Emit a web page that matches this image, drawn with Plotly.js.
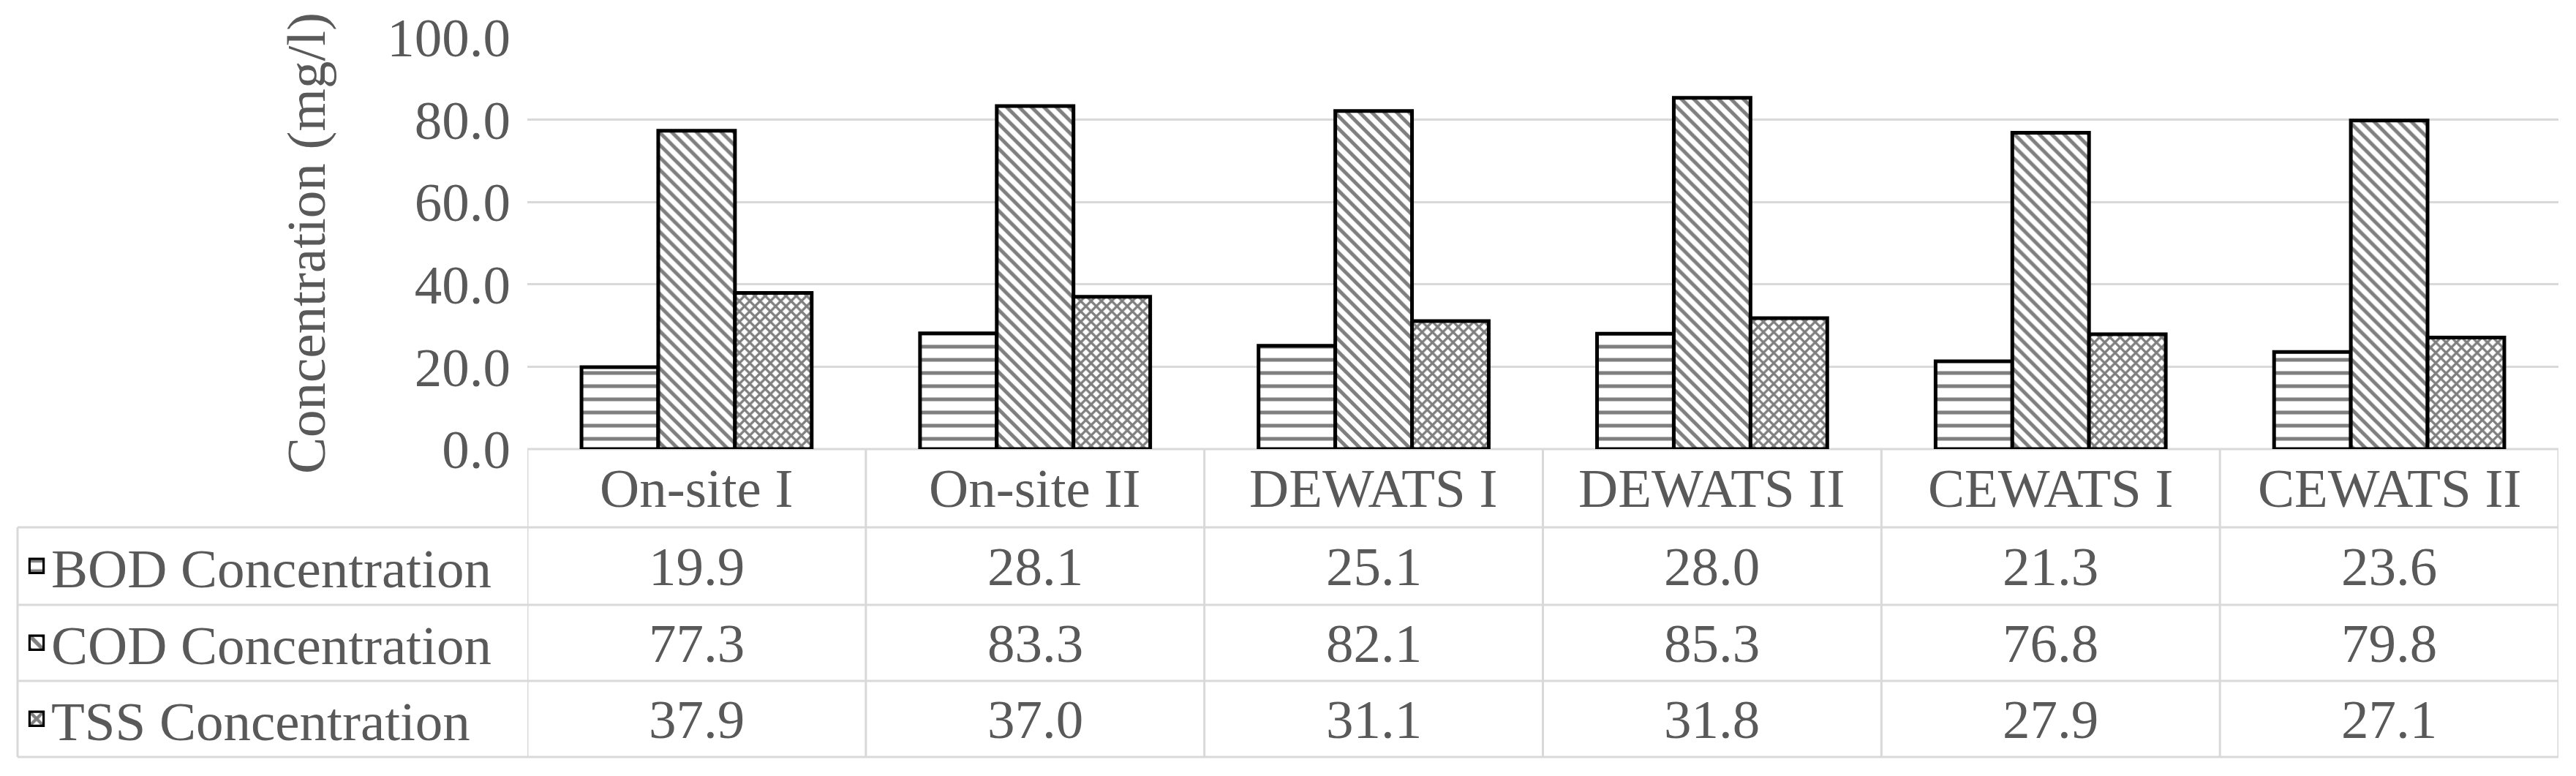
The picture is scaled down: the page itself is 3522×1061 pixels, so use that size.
<!DOCTYPE html>
<html>
<head>
<meta charset="utf-8">
<script src="https://cdn.plot.ly/plotly-3.0.1.min.js"></script>
<style>
  html, body { margin: 0; padding: 0; background: #ffffff; }
  #chart { width: 3522px; height: 1061px; }
</style>
</head>
<body>
<div id="chart"></div>
<script>
// ---- Data ----
var categories = ["On-site I", "On-site II", "DEWATS I", "DEWATS II", "CEWATS I", "CEWATS II"];
var seriesNames = ["BOD Concentration", "COD Concentration", "TSS Concentration"];
var bodValues = [19.9, 28.1, 25.1, 28.0, 21.3, 23.6];
var codValues = [77.3, 83.3, 82.1, 85.3, 76.8, 79.8];
var tssValues = [37.9, 37.0, 31.1, 31.8, 27.9, 27.1];
var yTickValues = [0, 20, 40, 60, 80, 100];
var yTitle = "Concentration (mg/l)";

// ---- Styling / layout helpers ----
var W = 3522, H = 1061;
var M = { l: 721, r: 24, t: 51, b: 447 };
var plotH = H - M.t - M.b;
var zeroPx = H - M.b;
function py(pix) { return (zeroPx - pix) / plotH; }
var plotW = W - M.l - M.r;
function px(pix) { return (pix - M.l) / plotW; }

var FONT = '"Liberation Serif", "Times New Roman", Times, serif';
var TXT = '#595959';
var GRID = '#d9d9d9';
var FS = 75;

var rowLines = [614, 721, 827, 931, 1035];
var legendLeftPx = 24;

var allSeries = [bodValues, codValues, tssValues];
var patterns = [
  { shape: '-', size: 18, solidity: 0.28 },
  { shape: '\\', size: 12, solidity: 0.42 },
  { shape: 'x', size: 10, solidity: 0.55 }
];
var legendIds = ['legend', 'legend2', 'legend3'];

var traces = allSeries.map(function (vals, i) {
  return {
    type: 'bar',
    name: seriesNames[i],
    x: categories,
    y: vals,
    legend: legendIds[i],
    marker: {
      color: '#ffffff',
      line: { color: '#000000', width: 5 },
      pattern: {
        shape: patterns[i].shape,
        size: patterns[i].size,
        solidity: patterns[i].solidity,
        fgcolor: '#000000',
        bgcolor: '#ffffff',
        fillmode: 'overlay'
      }
    },
    hoverinfo: 'x+y+name'
  };
});

// ---- Data table: grid lines as shapes, text as annotations ----
var shapes = [];
var lineStyle = { color: GRID, width: 3 };
rowLines.forEach(function (yy) {
  shapes.push({ type: 'line', xref: 'x', yref: 'paper', x0: -0.5, x1: categories.length - 0.5,
                y0: py(yy), y1: py(yy), line: lineStyle, layer: 'below' });
});
rowLines.slice(1).forEach(function (yy) {
  shapes.push({ type: 'line', xref: 'paper', yref: 'paper', x0: px(legendLeftPx), x1: 0,
                y0: py(yy), y1: py(yy), line: lineStyle, layer: 'below' });
});
for (var k = 0; k <= categories.length; k++) {
  shapes.push({ type: 'line', xref: 'x', yref: 'paper', x0: k - 0.5, x1: k - 0.5,
                y0: py(rowLines[0]), y1: py(rowLines[rowLines.length - 1]), line: lineStyle, layer: 'below' });
}
shapes.push({ type: 'line', xref: 'paper', yref: 'paper', x0: px(legendLeftPx), x1: px(legendLeftPx),
              y0: py(rowLines[1]), y1: py(rowLines[rowLines.length - 1]), line: lineStyle, layer: 'below' });

var annotations = [];
function rowCenter(r) { return py((rowLines[r] + rowLines[r + 1]) / 2); }
categories.forEach(function (c, j) {
  annotations.push({ x: c, xref: 'x', y: rowCenter(0), yref: 'paper', text: c, showarrow: false,
                     xanchor: 'center', yanchor: 'middle', font: { family: FONT, size: FS, color: TXT } });
  allSeries.forEach(function (vals, i) {
    annotations.push({ x: c, xref: 'x', y: rowCenter(i + 1), yref: 'paper', text: vals[j].toFixed(1),
                       showarrow: false, xanchor: 'center', yanchor: 'middle',
                       font: { family: FONT, size: FS, color: TXT } });
  });
});

function legendAt(r) {
  return {
    x: px(legendLeftPx + 6), xanchor: 'left', xref: 'paper',
    y: rowCenter(r), yanchor: 'middle', yref: 'paper',
    bgcolor: 'rgba(0,0,0,0)', borderwidth: 0,
    font: { family: FONT, size: FS, color: TXT },
    itemwidth: 30
  };
}

var layout = {
  width: W, height: H,
  margin: M,
  paper_bgcolor: '#ffffff', plot_bgcolor: '#ffffff',
  font: { family: FONT, size: FS, color: TXT },
  barmode: 'group',
  bargap: 0.32,
  bargroupgap: 0,
  xaxis: {
    type: 'category',
    range: [-0.5, categories.length - 0.5],
    showticklabels: false, ticks: '', showgrid: false, zeroline: false, showline: false,
    fixedrange: true
  },
  yaxis: {
    range: [0, 100],
    tickvals: yTickValues,
    tickformat: '.1f',
    ticks: '',
    ticklabelstandoff: 22,
    tickfont: { family: FONT, size: FS, color: TXT },
    showgrid: true, gridcolor: GRID, gridwidth: 3,
    zeroline: false, showline: false,
    title: { text: yTitle, font: { family: FONT, size: FS, color: TXT }, standoff: 60 },
    automargin: false,
    fixedrange: true
  },
  showlegend: true,
  legend: legendAt(1),
  legend2: legendAt(2),
  legend3: legendAt(3),
  shapes: shapes,
  annotations: annotations
};

Plotly.newPlot('chart', traces, layout, { displayModeBar: false, staticPlot: true }).then(function () {
  // enlarge the legend keys to match the data-table key boxes
  var paths = document.querySelectorAll('#chart .legendpoints path');
  paths.forEach(function (p) {
    var t = p.getAttribute('transform') || '';
    p.setAttribute('transform', t + ' translate(0,0) scale(1.6)');
    p.style.strokeWidth = '2px';
  });
});
</script>
</body>
</html>
